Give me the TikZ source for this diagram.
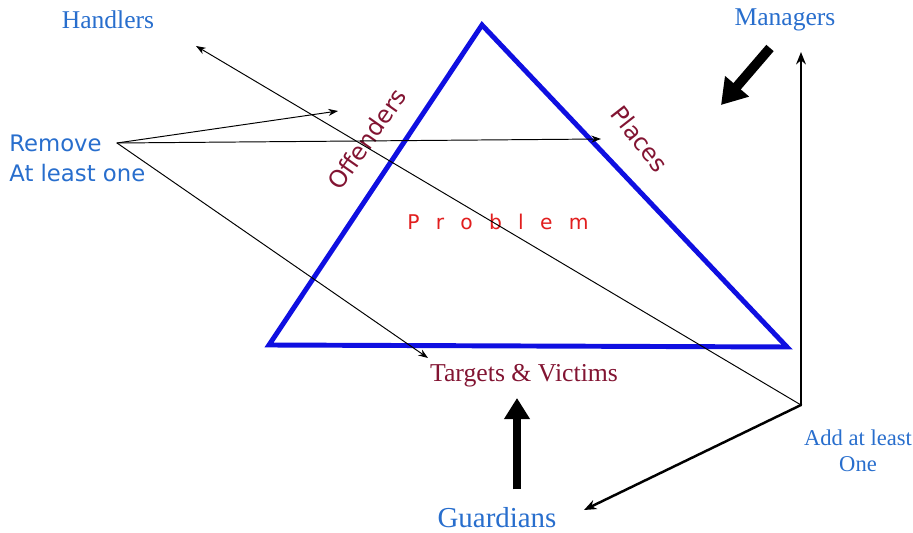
\documentclass[tikz,border=0pt]{standalone}
\usepackage{fontspec}
\setmainfont{Liberation Serif}
\newfontfamily\sansf{DejaVu Sans}
\usetikzlibrary{arrows.meta}
\definecolor{txtblue}{RGB}{40,110,205}
\definecolor{darkmaroon}{RGB}{130,20,50}
\definecolor{probred}{RGB}{225,30,30}
\definecolor{triblue}{RGB}{15,15,225}
\newcommand{\lgap}{\hspace{9.2pt}}
\begin{document}
\begin{tikzpicture}[x=0.567pt, y=-0.567pt, line join=round, line cap=round, >=Stealth,
		thinarr/.style={line width=0.55pt, -{Stealth[length=5.5pt,width=4pt]}},
		bigarr/.style={line width=1.4pt, -{Stealth[length=7pt,width=5.5pt]}},
		fatarr/.style={line width=4.5pt, line cap=butt, -{Triangle[length=12pt,width=14pt]}},
		side/.style={font=\sansf\fontsize{13.5}{16}\selectfont, text=darkmaroon, inner sep=0pt},
		role/.style={font=\fontsize{14.5}{17}\selectfont, text=txtblue, inner sep=0pt}]
	\useasboundingbox (0,0) rectangle (913,533);
	% triangle corners
	\coordinate (tA) at (482,25);
	\coordinate (tB) at (269,345);
	\coordinate (tC) at (787,347);
	\draw[triblue, line width=2.8pt, line join=miter] (tA) -- (tB) -- (tC) -- cycle;
	% arrow ends
	\coordinate (rm) at (117,143);
	\coordinate (offEnd) at (338,111);
	\coordinate (plcEnd) at (601,139);
	\coordinate (tgtEnd) at (428,358);
	\coordinate (hub) at (801,405);
	\coordinate (hdEnd) at (196,46);
	\coordinate (mgEnd) at (801,52);
	\coordinate (gdEnd) at (584,510);
	% labels
	\node[role] (handlers) at (108,20) {Handlers};
	\node[role] (managers) at (785,20) {Managers};
	\node[role, font=\fontsize{16.4}{19}\selectfont] (guardians) at (497,518) {Guardians};
	\node[role, font=\fontsize{12.8}{14.5}\selectfont, align=center] (addone) at (858,451) {Add at least\\One};
	\node[font=\sansf\fontsize{12.9}{17}\selectfont, text=txtblue, align=left, anchor=west, inner sep=0pt] (remove) at (9,158) {Remove\\At least one};
	\node[side, rotate=55] (offenders) at (367,139) {Offenders};
	\node[side, rotate=-52] (places) at (640,139) {Places};
	\node[font=\sansf\fontsize{11.5}{13}\selectfont, text=probred, inner sep=0pt] (problem) at (498,222) {P\lgap r\lgap o\lgap b\lgap l\lgap e\lgap m};
	\node[font=\fontsize{14.6}{17}\selectfont, text=darkmaroon, inner sep=0pt] (targets) at (524,376) {Targets \& Victims};
	% remove at least one
	\draw[thinarr] (rm) -- (offEnd);
	\draw[thinarr] (rm) -- (plcEnd);
	\draw[thinarr] (rm) -- (tgtEnd);
	% add at least one
	\draw[thinarr] (hub) -- (hdEnd);
	\draw[bigarr] (hub) -- (mgEnd);
	\draw[bigarr] (hub) -- (gdEnd);
	% fat arrows
	\draw[fatarr, line width=5.5pt, -{Triangle[length=14pt,width=17pt]}] (770,48) -- (721,105);
	\draw[fatarr] (guardians.north -| 517,0) ++(0,-18) -- (517,398);
\end{tikzpicture}
\end{document}
